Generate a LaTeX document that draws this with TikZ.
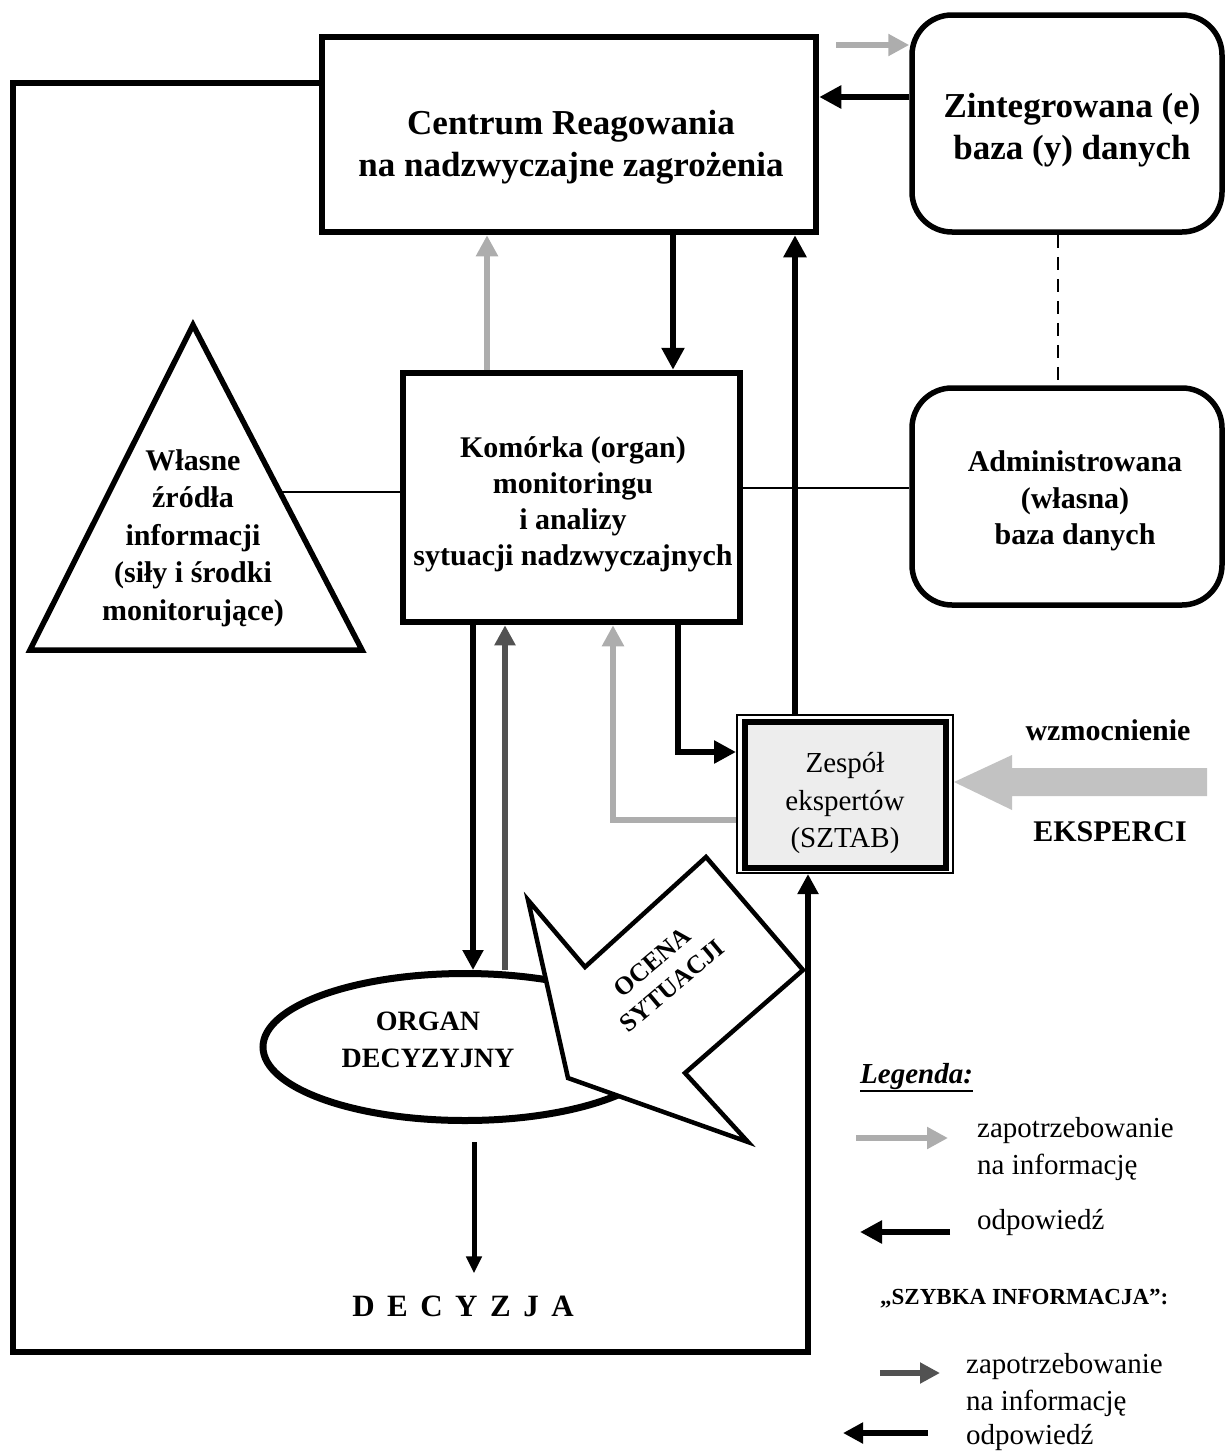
\documentclass[tikz,border=0pt]{standalone}
\usepackage{fontspec}
\setmainfont{Liberation Serif}
\usetikzlibrary{arrows.meta,shapes.geometric,calc}

\definecolor{reqgray}{gray}{0.68}
\definecolor{fastgray}{gray}{0.32}
\definecolor{boostgray}{gray}{0.76}
\definecolor{teamfill}{gray}{0.93}
\newcommand{\lsp}{\hspace{12.5pt}}

\begin{document}
\begin{tikzpicture}[x=1pt,y=-1pt,
  box/.style={draw, line width=6.5pt, inner sep=0pt, line join=miter},
  dbbox/.style={draw, line width=5.5pt, rounded corners=40pt, inner sep=0pt},
  txt/.style={inner sep=0pt, align=center},
  bigtxt/.style={txt, font=\fontsize{35}{42.5}\selectfont\bfseries},
  midtxt/.style={txt, font=\fontsize{30}{36.5}\selectfont\bfseries},
  legtxt/.style={inner sep=0pt, anchor=west, align=left, font=\fontsize{29}{37}\selectfont},
  resp/.style={draw=black, line width=6.5pt, -{Triangle[length=22pt,width=22pt]}},
  req/.style={draw=reqgray, line width=6.5pt, -{Triangle[length=21pt,width=21pt]}},
  fastresp/.style={draw=black, line width=6.5pt, -{Triangle[length=20pt,width=20pt]}},
  fastreq/.style={draw=fastgray, line width=6.5pt, -{Triangle[length=20pt,width=20pt]}},
  frame/.style={draw=black, line width=6pt, line join=miter, -{Triangle[length=20pt,width=20pt]}},
  link/.style={draw, line width=2pt},
]
\useasboundingbox (0,0) rectangle (1225,1456);

% --- main boxes ---
\node[box, minimum width=494pt, minimum height=195pt] (crr) at (569,134.5) {};
\node[bigtxt] (crrtxt) at (571,147) {Centrum Reagowania\\na nadzwyczajne zagrożenia};

\node[dbbox, minimum width=310pt, minimum height=217pt] (zdb) at (1067,123.5) {};
\node[bigtxt] (zdbtxt) at (1072,130) {Zintegrowana (e)\\baza (y) danych};

\node[dbbox, minimum width=310pt, minimum height=217pt] (adb) at (1067,496.5) {};
\node[midtxt] (adbtxt) at (1075,501) {Administrowana\\(własna)\\baza danych};

\node[box, minimum width=337pt, minimum height=249pt] (kom) at (571.5,497.5) {};
\node[midtxt, font=\fontsize{30}{36}\selectfont\bfseries] (komtxt) at (573,504)
  {Komórka (organ)\\monitoringu\\i analizy\hspace*{36pt}\\sytuacji nadzwyczajnych};

% --- own information sources (triangle) ---
\coordinate (tA) at (193,325);
\coordinate (tB) at (362,650);
\coordinate (tC) at (30,650);
\draw[line width=5.5pt, line join=miter] (tA) -- (tB) -- (tC) -- cycle;
\node[midtxt, font=\fontsize{30}{37.5}\selectfont\bfseries] (tritxt) at (193,538)
  {Własne\\źródła\\informacji\\(siły i środki\\monitorujące)};
\coordinate (tside) at ($(tA)!0.514!(tB)$);

% --- expert team ---
\node[draw, line width=2pt, minimum width=216pt, minimum height=158pt, inner sep=0pt] (zesout) at (845,794) {};
\node[draw, line width=6pt, fill=teamfill, minimum width=201pt, minimum height=146pt, inner sep=0pt] (zes) at (845.5,795) {};
\node[txt, font=\fontsize{29}{37.5}\selectfont] (zestxt) at (845,803) {Zespół\\ekspertów\\(SZTAB)};

% --- decision body ---
\node[ellipse, draw, line width=7pt, minimum width=404pt, minimum height=147pt, inner sep=0pt] (ell) at (465,1047) {};
\node[txt, font=\fontsize{28}{37}\selectfont\bfseries] (elltxt) at (428,1040) {ORGAN\\DECYZYJNY};

% --- situation assessment arrow ---
\draw[line width=4.5pt, fill=white, line join=miter]
  (528,900) -- (585,967) -- (706,857) -- (803,970) -- (685,1073) -- (748,1142) -- (568,1078) -- cycle;
\node[txt, rotate=40, font=\fontsize{25.5}{31}\selectfont\bfseries] (ocn) at (662,974) {OCENA\\SYTUACJI};

% --- reinforcement arrow ---
\fill[boostgray] (zesout.east |- 0,782) -- ++(58,-27) -- ++(0,13) -- ++(195,0)
  -- ++(0,28) -- ++(-195,0) -- ++(0,14) -- cycle;
\node[txt, font=\fontsize{30}{36}\selectfont\bfseries] (wzm) at (1108,730) {wzmocnienie};
\node[txt, font=\fontsize{30}{36}\selectfont\bfseries] (eksp) at (1110,832) {EKSPERCI};

% --- connectors ---
\draw[req] ($(crr.east |- 0,45)+(17,0)$) -- (zdb.west |- 0,45);
\draw[resp] (zdb.west |- 0,97) -- (crr.east |- 0,97);
\draw[req] (kom.north -| 487,0) -- (crr.south -| 487,0);
\draw[resp] (crr.south -| 673,0) -- (kom.north -| 673,0);
\draw[resp] (zesout.north -| 795,0) -- (crr.south -| 795,0);
\draw[resp] (kom.south -| 678,0) |- (zesout.west |- 0,752);
\draw[req] (zesout.west |- 0,820) -| (kom.south -| 613,0);
\draw[fastresp] (kom.south -| 473,0) -- (ell.north -| 473,0);
\draw[fastreq] (ell.north -| 505,0) -- (kom.south -| 505,0);

\draw[link] (tside) -- (kom.west |- tside);
\draw[link] (kom.east |- 0,488) -- (adb.west |- 0,488);
\draw[link, dash pattern=on 13pt off 9pt] (zdb.south -| 1058,0) -- (adb.north -| 1058,0);

% outer feedback loop back to the expert team
\draw[frame] (crr.west |- 0,83) -| (13,1352) -| (zesout.south -| 808,0);

% --- decision ---
\node[txt, font=\fontsize{31}{36}\selectfont\bfseries] (dec) at (463,1306) {D\lsp E\lsp C\lsp Y\lsp Z\lsp J\lsp A};
\draw[line width=5pt, -{Triangle[length=17pt,width=15pt]}]
  ($(ell.south -| 474,0)+(0,18)$) -- ($(dec.north -| 474,0)+(0,-22)$);

% --- legend ---
\node[inner sep=0pt, anchor=west, font=\fontsize{29}{34}\selectfont\bfseries\itshape] (leg) at (860,1077) {Legenda:};
\draw[line width=2.5pt] ($(leg.base west)+(0,7)$) -- ($(leg.base east)+(0,7)$);

\coordinate (l1a) at (856,1138);
\coordinate (l1b) at (948,1138);
\draw[req] (l1a) -- (l1b);
\node[legtxt] (leg1) at (977,1149) {zapotrzebowanie\\na informację};

\coordinate (l2a) at (950,1232);
\coordinate (l2b) at (860,1232);
\draw[resp] (l2a) -- (l2b);
\node[legtxt] (leg2) at (977,1222) {odpowiedź};

\node[inner sep=0pt, anchor=west, font=\fontsize{23}{28}\selectfont\bfseries] (leg3) at (880,1299) {„SZYBKA INFORMACJA”:};

\coordinate (l3a) at (880,1373);
\coordinate (l3b) at (940,1373);
\draw[fastreq] (l3a) -- (l3b);
\node[legtxt] (leg4) at (966,1385) {zapotrzebowanie\\na informację};

\coordinate (l4a) at (928,1433);
\coordinate (l4b) at (843,1433);
\draw[fastresp] (l4a) -- (l4b);
\node[legtxt] (leg5) at (966,1437) {odpowiedź};
\end{tikzpicture}
\end{document}
